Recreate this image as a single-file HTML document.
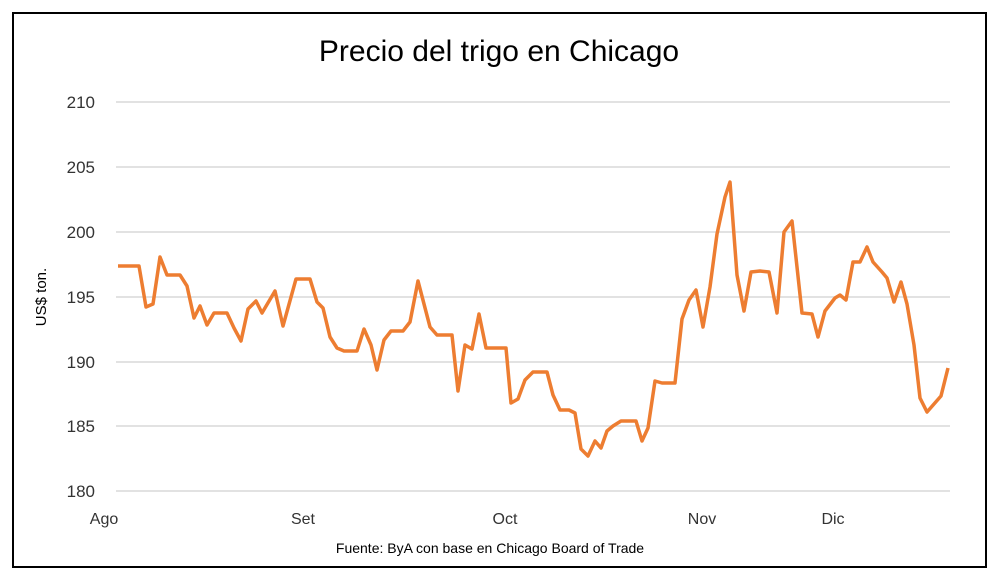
<!DOCTYPE html>
<html><head><meta charset="utf-8"><style>
body{margin:0;background:#fff;}
svg{display:block;font-family:"Liberation Sans",Calibri,sans-serif;}
</style></head><body>
<svg width="1000" height="582" viewBox="0 0 1000 582">
<rect x="0" y="0" width="1000" height="582" fill="#fff"/>
<rect x="13" y="13" width="973" height="554" fill="#fff" stroke="#000" stroke-width="2"/>
<text x="499" y="61" font-size="30" text-anchor="middle" fill="#000">Precio del trigo en Chicago</text>
<g stroke="#d9d9d9" stroke-width="1.5">
<line x1="116" y1="102" x2="950" y2="102"/>
<line x1="116" y1="167" x2="950" y2="167"/>
<line x1="116" y1="232" x2="950" y2="232"/>
<line x1="116" y1="297" x2="950" y2="297"/>
<line x1="116" y1="362" x2="950" y2="362"/>
<line x1="116" y1="426" x2="950" y2="426"/>
<line x1="116" y1="491" x2="950" y2="491"/>
</g>
<g font-size="17" fill="#333" text-anchor="end">
<text x="95" y="108">210</text>
<text x="95" y="173">205</text>
<text x="95" y="238">200</text>
<text x="95" y="303">195</text>
<text x="95" y="368">190</text>
<text x="95" y="432">185</text>
<text x="95" y="497">180</text>
</g>
<text transform="translate(46,297) rotate(-90)" font-size="15" text-anchor="middle" fill="#000">US$ ton.</text>
<g font-size="16" fill="#333" text-anchor="middle">
<text x="104" y="524">Ago</text>
<text x="303" y="524">Set</text>
<text x="505" y="524">Oct</text>
<text x="702" y="524">Nov</text>
<text x="833" y="524">Dic</text>
</g>
<text x="490" y="553" font-size="14" text-anchor="middle" fill="#000">Fuente: ByA con base en Chicago Board of Trade</text>
<polyline fill="none" stroke="#ed7d31" stroke-width="3.5" stroke-linejoin="round" points="118,266 139,266 146,307 153,304 160,257 167,275 180,275 187,286 194,318 200,306 207,325 214,313 227,313 234,328 241,341 248,309 256,301 262,313 275,291 283,326 296,279 310,279 317,302 323,308 330,337 337,348 344,351 357,351 364,329 371,345 377,370 384,340 391,331 403,331 410,322 418,281 430,327 437,335 452,335 458,391 465,345 472,349 479,314 486,348 506,348 511,403 518,399 525,380 533,372 547,372 553,395 560,410 569,410 575,413 581,449 588,456 595,441 601,448 607,431 613,426 621,421 636,421 642,441 648,428 655,381 662,383 675,383 682,319 689,300 696,290 703,327 710,287 717,234 725,197 730,182 737,275 744,311 751,272 760,271 769,272 777,313 784,232 792,221 802,313 812,314 818,337 825,311 835,298 840,295 846,300 853,262 860,262 867,247 873,262 882,272 887,278 894,302 901,282 907,304 914,345 920,398 927,412 934,404 941,396 948,368"/>
</svg>
</body></html>
